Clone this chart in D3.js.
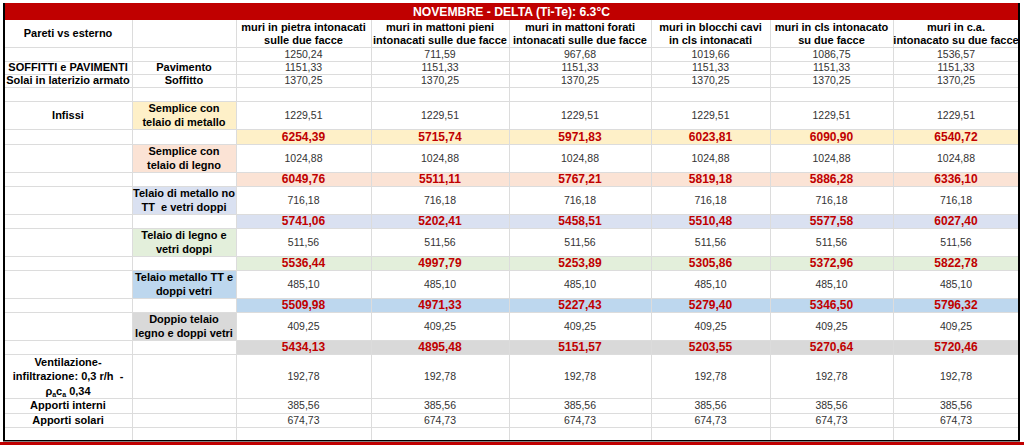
<!DOCTYPE html>
<html><head><meta charset="utf-8">
<script src="https://cdn.jsdelivr.net/npm/d3@7"></script>
<style>html,body{margin:0;padding:0;background:#fff;}svg{display:block;}text{white-space:pre;}</style>
</head><body>
<svg id="c" width="1024" height="445"></svg>
<script>
// ---------- DATA ----------
const title = "NOVEMBRE - DELTA (Ti-Te): 6.3°C";
const wallTypes = [
  ["muri in pietra intonacati", "sulle due facce"],
  ["muri in mattoni pieni", "intonacati sulle due facce"],
  ["muri in mattoni forati", "intonacati sulle due facce"],
  ["muri in blocchi cavi", "in cls intonacati"],
  ["muri in cls intonacato", "su due facce"],
  ["muri in c.a.", "intonacato su due facce"]
];
const pareti = [1250.24, 711.59, 967.68, 1019.66, 1086.75, 1536.57];
const pavimento = [1151.33, 1151.33, 1151.33, 1151.33, 1151.33, 1151.33];
const soffitto = [1370.25, 1370.25, 1370.25, 1370.25, 1370.25, 1370.25];
const infissiLabels = [
  ["Semplice con", "telaio di metallo"],
  ["Semplice con", "telaio di legno"],
  ["Telaio di metallo no", "TT  e vetri doppi"],
  ["Telaio di legno e", "vetri doppi"],
  ["Telaio metallo TT e", "doppi vetri"],
  ["Doppio telaio", "legno e doppi vetri"]
];
const infissiValues = [1229.51, 1024.88, 716.18, 511.56, 485.10, 409.25];
const totSemplMetallo = [6254.39, 5715.74, 5971.83, 6023.81, 6090.90, 6540.72];
const totSemplLegno   = [6049.76, 5511.11, 5767.21, 5819.18, 5886.28, 6336.10];
const totMetalloNoTT  = [5741.06, 5202.41, 5458.51, 5510.48, 5577.58, 6027.40];
const totLegnoDoppi   = [5536.44, 4997.79, 5253.89, 5305.86, 5372.96, 5822.78];
const totMetalloTT    = [5509.98, 4971.33, 5227.43, 5279.40, 5346.50, 5796.32];
const totDoppioTelaio = [5434.13, 4895.48, 5151.57, 5203.55, 5270.64, 5720.46];
const ventilazione = [192.78, 192.78, 192.78, 192.78, 192.78, 192.78];
const apportiInterni = [385.56, 385.56, 385.56, 385.56, 385.56, 385.56];
const apportiSolari = [674.73, 674.73, 674.73, 674.73, 674.73, 674.73];

// ---------- LAYOUT / STYLE ----------
const totals = [totSemplMetallo, totSemplLegno, totMetalloNoTT, totLegnoDoppi, totMetalloTT, totDoppioTelaio];
const infissiColors = ["#FEF0C8", "#FBE3D5", "#DAE1F1", "#E3EFDB", "#BDD7EE", "#D9D9D9"];
const colWidths = [128, 104, 135, 138, 142, 119, 123, 126];
const rowHeights = [17, 27, 14, 13, 13, 14, 28, 15, 28, 14, 28, 14, 28, 14, 28, 14, 28, 14, 44, 15, 14, 13];
const x0 = 4, y0 = 3;
const colEdges = [x0, ...d3.cumsum(colWidths).map(v => v + x0)];
const rowEdges = [y0, ...d3.cumsum(rowHeights).map(v => v + y0)];
const xCol = d3.scaleOrdinal().domain(d3.range(colWidths.length)).range(colEdges.slice(0, -1));
const yRow = d3.scaleOrdinal().domain(d3.range(rowHeights.length)).range(rowEdges.slice(0, -1));
const W = i => colWidths[i], H = i => rowHeights[i];
const xRight = colEdges[colEdges.length - 1], yBottom = rowEdges[rowEdges.length - 1];

const it = d3.formatLocale({decimal: ",", thousands: "", grouping: [3], currency: ["", "€"]});
const fmt = it.format(".2f");

const svg = d3.select("#c");
const FONT = "'Liberation Sans', Arial, sans-serif";
const gBg = svg.append("g"), gGrid = svg.append("g"), gText = svg.append("g");

// backgrounds for infissi blocks
infissiLabels.forEach((lab, k) => {
  const rLab = 6 + 2 * k, rTot = 7 + 2 * k;
  gBg.append("rect").attr("x", xCol(1)).attr("y", yRow(rLab)).attr("width", W(1)).attr("height", H(rLab)).attr("fill", infissiColors[k]);
  gBg.append("rect").attr("x", xCol(2)).attr("y", yRow(rTot)).attr("width", xRight - xCol(2)).attr("height", H(rTot)).attr("fill", infissiColors[k]);
});

// gridlines
const gridColor = "#dcdcdc";
rowEdges.slice(2, -1).forEach(y => {
  gGrid.append("line").attr("x1", x0).attr("x2", xRight).attr("y1", y + 0.5).attr("y2", y + 0.5).attr("stroke", gridColor);
});
colEdges.slice(1, -1).forEach(x => {
  gGrid.append("line").attr("x1", x + 0.5).attr("x2", x + 0.5).attr("y1", rowEdges[1]).attr("y2", yBottom).attr("stroke", gridColor);
});

// title band
gBg.append("rect").attr("x", x0).attr("y", yRow(0)).attr("width", xRight - x0).attr("height", H(0)).attr("fill", "#C00000");
gText.append("text").attr("x", (x0 + xRight) / 2).attr("y", yRow(0) + H(0) / 2 + 4.5)
  .attr("text-anchor", "middle").attr("font-family", FONT).attr("font-weight", "bold").attr("font-size", 12.2).attr("fill", "#fff").text(title);

// borders
svg.append("rect").attr("x", x0 - 1).attr("y", yRow(0)).attr("width", 2).attr("height", yBottom - yRow(0) + 1).attr("fill", "#000");
svg.append("rect").attr("x", xRight - 1).attr("y", yRow(0)).attr("width", 2).attr("height", yBottom - yRow(0) + 1).attr("fill", "#000");
svg.append("rect").attr("x", x0 - 1).attr("y", yBottom).attr("width", xRight - x0 + 2).attr("height", 1.5).attr("fill", "#000");
svg.append("rect").attr("x", 0).attr("y", yBottom + 2).attr("width", 1024).attr("height", 445 - yBottom - 2).attr("fill", "#C00000");

// text helper
function cellText(col, row, lines, opts = {}) {
  const cx = xCol(col) + W(col) / 2;
  const cy = yRow(row) + H(row) / 2;
  const lh = opts.lh || 14;
  const fs = opts.fs || 11;
  const t = gText.append("text").attr("text-anchor", "middle").attr("font-family", FONT)
    .attr("font-size", fs).attr("font-weight", opts.bold ? "bold" : "normal").attr("fill", opts.color || "#000");
  const n = lines.length;
  lines.forEach((ln, i) => {
    t.append("tspan").attr("x", cx).attr("y", cy + (i - (n - 1) / 2) * lh + fs * 0.36 + (opts.dy || 0)).text(ln);
  });
  return t;
}

// column headers
cellText(0, 1, ["Pareti vs esterno"], {bold: true});
wallTypes.forEach((w, i) => cellText(2 + i, 1, w, {bold: true, lh: 13}));

const numStyle = {fs: 10.5, color: "#333"};
const totStyle = {fs: 12, bold: true, color: "#C00000"};

pareti.forEach((v, i) => cellText(2 + i, 2, [fmt(v)], numStyle));
cellText(0, 3, ["SOFFITTI e PAVIMENTI"], {bold: true});
cellText(1, 3, ["Pavimento"], {bold: true});
pavimento.forEach((v, i) => cellText(2 + i, 3, [fmt(v)], numStyle));
cellText(0, 4, ["Solai in laterizio armato"], {bold: true});
cellText(1, 4, ["Soffitto"], {bold: true});
soffitto.forEach((v, i) => cellText(2 + i, 4, [fmt(v)], numStyle));

cellText(0, 6, ["Infissi"], {bold: true, dy: 0});
infissiLabels.forEach((lab, k) => {
  const rLab = 6 + 2 * k, rTot = 7 + 2 * k;
  cellText(1, rLab, lab, {bold: true, lh: 14});
  d3.range(6).forEach(i => cellText(2 + i, rLab, [fmt(infissiValues[k])], numStyle));
  totals[k].forEach((v, i) => cellText(2 + i, rTot, [fmt(v)], totStyle));
});

// ventilation label with subscripts
{
  const cx = xCol(0) + W(0) / 2, cy = yRow(18) + H(18) / 2;
  const t = gText.append("text").attr("text-anchor", "middle").attr("font-family", FONT).attr("font-size", 11).attr("font-weight", "bold").attr("fill", "#000");
  t.append("tspan").attr("x", cx).attr("y", cy - 14 + 4).text("Ventilazione-");
  t.append("tspan").attr("x", cx).attr("y", cy + 4).text("infiltrazione: 0,3 r/h  -");
  const t3 = gText.append("text").attr("text-anchor", "middle").attr("font-family", FONT).attr("font-size", 11).attr("font-weight", "bold").attr("fill", "#000")
    .attr("x", cx).attr("y", cy + 14.5 + 4);
  t3.append("tspan").text("ρ");
  t3.append("tspan").attr("font-size", 7).attr("dy", 2).text("a");
  t3.append("tspan").attr("dy", -2).text("c");
  t3.append("tspan").attr("font-size", 7).attr("dy", 2).text("a");
  t3.append("tspan").attr("dy", -2).text(" 0,34");
}
ventilazione.forEach((v, i) => cellText(2 + i, 18, [fmt(v)], numStyle));
cellText(0, 19, ["Apporti interni"], {bold: true});
apportiInterni.forEach((v, i) => cellText(2 + i, 19, [fmt(v)], numStyle));
cellText(0, 20, ["Apporti solari"], {bold: true});
apportiSolari.forEach((v, i) => cellText(2 + i, 20, [fmt(v)], numStyle));
</script>
</body></html>
